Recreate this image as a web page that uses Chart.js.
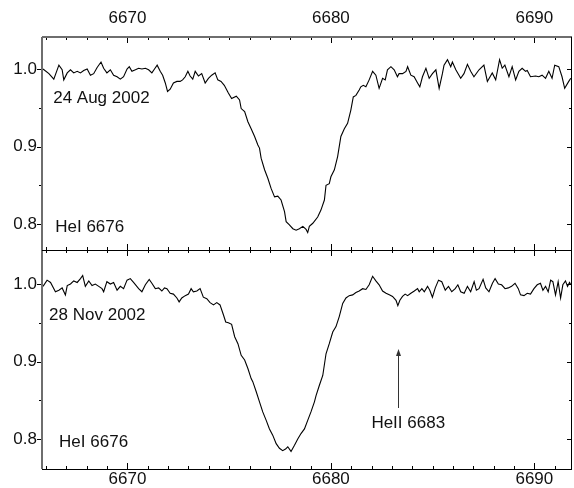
<!DOCTYPE html>
<html>
<head>
<meta charset="utf-8">
<script src="https://cdn.jsdelivr.net/npm/chart.js@4"></script>
<style>
  body { margin: 0; background: #fff; }
  canvas { display: block; }
</style>
</head>
<body>
<canvas id="espectro" width="574" height="488"></canvas>
<script>
// espectro de 24 Aug 2002 (painel de cima)
const augWave = [
  6665.85, 6666.14, 6666.38, 6666.63, 6666.79, 6666.87, 6667.04, 6667.20, 6667.36, 6667.53,
  6667.69, 6667.85, 6668.02, 6668.18, 6668.34, 6668.51, 6668.70, 6668.83, 6668.99, 6669.16,
  6669.32, 6669.49, 6669.65, 6669.81, 6669.98, 6670.09, 6670.22, 6670.39, 6670.55, 6670.71,
  6670.88, 6671.04, 6671.20, 6671.33, 6671.46, 6671.61, 6671.73, 6671.86, 6671.97, 6672.10,
  6672.26, 6672.43, 6672.59, 6672.71, 6672.84, 6672.97, 6673.08, 6673.21, 6673.33, 6673.49,
  6673.65, 6673.82, 6673.98, 6674.14, 6674.31, 6674.44, 6674.60, 6674.76, 6674.96, 6675.12,
  6675.35, 6675.51, 6675.59, 6675.76, 6675.92, 6676.08, 6676.25, 6676.41, 6676.49, 6676.57,
  6676.74, 6676.90, 6677.06, 6677.23, 6677.39, 6677.55, 6677.72, 6677.80, 6677.96, 6678.13,
  6678.29, 6678.45, 6678.62, 6678.78, 6678.86, 6678.94, 6679.11, 6679.35, 6679.51, 6679.68,
  6679.76, 6679.92, 6680.00, 6680.17, 6680.33, 6680.49, 6680.66, 6680.82, 6680.98, 6681.10,
  6681.23, 6681.39, 6681.47, 6681.59, 6681.72, 6681.88, 6682.05, 6682.21, 6682.37, 6682.54,
  6682.67, 6682.78, 6682.95, 6683.11, 6683.27, 6683.35,
  6683.52, 6683.69, 6683.77, 6683.93, 6684.09, 6684.26, 6684.37, 6684.50, 6684.67, 6684.83,
  6684.99, 6685.16, 6685.32, 6685.48, 6685.56, 6685.73, 6685.89, 6685.97, 6686.14, 6686.38,
  6686.54, 6686.71, 6686.87, 6687.03, 6687.28, 6687.52, 6687.69, 6687.93, 6688.10, 6688.29,
  6688.42, 6688.55, 6688.75, 6688.91, 6689.08, 6689.24, 6689.40, 6689.57, 6689.65, 6689.81,
  6690.06, 6690.22, 6690.38, 6690.55, 6690.71, 6690.87, 6691.00, 6691.20, 6691.36, 6691.49,
  6691.69, 6691.79
];
const augFlux = [
  1.000, 0.994, 0.987, 1.005, 0.999, 0.986, 0.995, 0.999, 0.995, 0.997,
  0.995, 0.998, 1.000, 0.992, 0.994, 1.002, 1.009, 1.001, 0.995, 0.999,
  0.992, 0.990, 0.987, 0.990, 1.000, 1.003, 0.997, 0.999, 1.001, 1.000,
  1.001, 0.999, 0.995, 1.000, 1.005, 0.997, 0.992, 0.982, 0.971, 0.974,
  0.982, 0.984, 0.984, 0.986, 0.990, 0.997, 0.991, 0.987, 0.997, 0.991,
  0.994, 0.982, 0.988, 0.992, 0.995, 0.986, 0.984, 0.979, 0.969, 0.962,
  0.965, 0.960, 0.949, 0.945, 0.932, 0.923, 0.913, 0.902, 0.898, 0.885,
  0.870, 0.859, 0.846, 0.835, 0.836, 0.831, 0.816, 0.803, 0.799, 0.794,
  0.792, 0.794, 0.797, 0.793, 0.789, 0.797, 0.801, 0.809, 0.818, 0.831,
  0.850, 0.852, 0.861, 0.870, 0.887, 0.913, 0.923, 0.930, 0.947, 0.964,
  0.966, 0.973, 0.977, 0.979, 0.977, 0.986, 0.997, 0.992, 0.975, 0.988,
  0.986, 0.999, 1.003, 0.999, 0.990, 0.994,
  0.994, 0.997, 1.003, 0.992, 0.990, 0.982, 0.977, 0.990, 1.001, 0.988,
  0.994, 0.999, 0.975, 0.994, 1.005, 1.012, 1.003, 1.009, 0.999, 0.988,
  0.994, 1.006, 0.997, 0.990, 0.999, 1.005, 0.984, 0.995, 0.986, 1.012,
  1.001, 1.005, 0.990, 1.003, 0.986, 0.997, 1.001, 0.997, 0.998, 0.990,
  0.991, 0.990, 0.992, 0.988, 0.997, 0.988, 1.005, 1.003, 0.990, 0.975,
  0.984, 0.988
];

// espectro de 28 Nov 2002 (painel de baixo)
const novWave = [
  6665.85, 6666.05, 6666.22, 6666.46, 6666.63, 6666.79, 6666.95, 6667.04, 6667.20, 6667.36,
  6667.53, 6667.69, 6667.80, 6667.93, 6668.10, 6668.26, 6668.42, 6668.59, 6668.75, 6668.83,
  6668.99, 6669.16, 6669.32, 6669.49, 6669.65, 6669.81, 6669.98, 6670.14, 6670.30, 6670.55,
  6670.71, 6670.88, 6671.07, 6671.20, 6671.37, 6671.53, 6671.69, 6671.82, 6671.94, 6672.10,
  6672.26, 6672.43, 6672.54, 6672.67, 6672.84, 6673.00, 6673.13, 6673.24, 6673.41, 6673.57,
  6673.73, 6673.90, 6674.06, 6674.23, 6674.39, 6674.55, 6674.72, 6674.83, 6674.96, 6675.12,
  6675.27, 6675.43, 6675.59, 6675.76, 6675.92, 6676.08, 6676.16, 6676.33, 6676.49, 6676.65,
  6676.82, 6676.98, 6677.14, 6677.31, 6677.47, 6677.63, 6677.77, 6677.88, 6678.04, 6678.21,
  6678.37, 6678.53, 6678.70, 6678.86, 6679.02, 6679.19, 6679.27, 6679.43, 6679.60, 6679.76,
  6679.92, 6680.09, 6680.25, 6680.41, 6680.58, 6680.74, 6680.90, 6681.07, 6681.23, 6681.39,
  6681.56, 6681.72, 6681.88, 6682.05, 6682.21, 6682.37,
  6682.54, 6682.71, 6682.87, 6683.03, 6683.20, 6683.29, 6683.39, 6683.52, 6683.65, 6683.77,
  6683.93, 6684.10, 6684.26, 6684.34, 6684.47, 6684.59, 6684.75, 6684.86, 6684.99, 6685.13,
  6685.29, 6685.45, 6685.62, 6685.78, 6685.94, 6686.11, 6686.24, 6686.38, 6686.55, 6686.71,
  6686.87, 6687.04, 6687.15, 6687.28, 6687.48, 6687.61, 6687.77, 6687.94, 6688.07, 6688.23,
  6688.39, 6688.56, 6688.72, 6688.88, 6689.05, 6689.21, 6689.32, 6689.49, 6689.65, 6689.81,
  6689.98, 6690.14, 6690.30, 6690.42, 6690.55, 6690.68, 6690.80, 6690.91, 6691.04, 6691.17,
  6691.29, 6691.40, 6691.53, 6691.63, 6691.73, 6691.79
];
const novFlux = [
  0.997, 1.005, 1.002, 0.990, 0.992, 0.995, 0.986, 0.998, 1.000, 1.004,
  1.002, 1.007, 1.011, 0.997, 1.004, 0.998, 1.000, 0.997, 0.994, 0.990,
  1.003, 1.000, 1.002, 0.992, 0.997, 0.994, 1.005, 1.007, 1.002, 0.994,
  0.990, 0.999, 1.006, 1.001, 0.994, 0.995, 0.991, 0.995, 0.994, 0.988,
  0.987, 0.982, 0.977, 0.982, 0.985, 0.987, 0.994, 0.990, 0.991, 0.994,
  0.983, 0.981, 0.976, 0.973, 0.976, 0.973, 0.960, 0.951, 0.950, 0.948,
  0.932, 0.923, 0.908, 0.902, 0.891, 0.878, 0.874, 0.861, 0.848, 0.835,
  0.824, 0.813, 0.805, 0.794, 0.788, 0.785, 0.787, 0.790, 0.784, 0.792,
  0.800, 0.807, 0.813, 0.824, 0.835, 0.848, 0.856, 0.869, 0.882, 0.910,
  0.923, 0.938, 0.945, 0.958, 0.975, 0.982, 0.985, 0.986, 0.989, 0.991,
  0.994, 0.993, 0.999, 1.010, 1.004, 0.999,
  0.991, 0.988, 0.986, 0.984, 0.979, 0.972, 0.979, 0.984, 0.987, 0.985,
  0.988, 0.991, 0.994, 0.990, 0.994, 0.990, 0.997, 0.992, 0.983, 0.995,
  1.005, 1.003, 0.992, 0.997, 0.990, 0.994, 0.999, 0.990, 0.988, 0.997,
  0.990, 1.003, 0.992, 0.994, 1.006, 0.995, 0.990, 1.001, 1.007, 1.000,
  0.999, 0.994, 0.995, 0.997, 1.001, 0.994, 0.986, 0.985, 0.988, 0.987,
  0.994, 0.999, 1.001, 0.992, 0.997, 0.990, 1.005, 1.003, 0.986, 1.003,
  0.982, 0.999, 1.004, 0.997, 1.002, 0.999
];

const xTicks = [6670, 6680, 6690];
const yTicks = [0.8, 0.9, 1.0];

// textos dentro dos paineis
const rotulos = [
  { texto: '24 Aug 2002', x: 6666.35, y: 0.9626, eixo: 'yTop' },
  { texto: 'HeI 6676', x: 6666.45, y: 0.796, eixo: 'yTop' },
  { texto: '28 Nov 2002', x: 6666.15, y: 0.960, eixo: 'yBot' },
  { texto: 'HeI 6676', x: 6666.64, y: 0.796, eixo: 'yBot' },
  { texto: 'HeII 6683', x: 6681.99, y: 0.8206, eixo: 'yBot' }
];
const seta = { x: 6683.31, de: 0.840, ate: 0.916, eixo: 'yBot' };

const fonte = { family: "'Liberation Sans', Arial, sans-serif", size: 17 };

function pares(ws, fs) {
  return ws.map((w, i) => ({ x: w, y: fs[i] }));
}

function soTicks(valores) {
  return function (scale) { scale.ticks = valores.map(v => ({ value: v })); };
}

// moldura com tracinhos para dentro, como no original
const moldura = {
  id: 'moldura',
  afterDraw(chart) {
    const ctx = chart.ctx;
    const x = chart.scales.x;
    const l = x.left, r = x.right;
    ctx.save();

    ['yTop', 'yBot'].forEach(id => {
      const y = chart.scales[id];
      const t = y.top, b = y.bottom;
      ctx.strokeStyle = '#000';
      ctx.lineWidth = 1;
      ctx.beginPath();
      for (let w = 6666; w <= 6691; w++) {
        const px = Math.round(x.getPixelForValue(w)) + 0.5;
        const len = w % 10 === 0 ? 6 : 3;
        ctx.moveTo(px, t); ctx.lineTo(px, t + len);
        ctx.moveTo(px, b); ctx.lineTo(px, b - len);
      }
      [0.8, 0.85, 0.9, 0.95, 1.0].forEach(v => {
        const py = Math.round(y.getPixelForValue(v)) + 0.5;
        const len = Math.abs(v * 10 - Math.round(v * 10)) < 0.01 ? 5 : 3;
        ctx.moveTo(l - len, py); ctx.lineTo(l, py);
        ctx.moveTo(r - len, py); ctx.lineTo(r, py);
      });
      ctx.stroke();
    });

    const yT = chart.scales.yTop, yB = chart.scales.yBot;
    // lados de cima e da esquerda mais grossos e cinzas
    ctx.strokeStyle = '#6e6e6e';
    ctx.lineWidth = 2;
    ctx.beginPath();
    ctx.moveTo(l, yT.top); ctx.lineTo(r, yT.top);
    ctx.moveTo(l, yT.top); ctx.lineTo(l, yB.bottom);
    ctx.stroke();
    ctx.strokeStyle = '#000';
    ctx.lineWidth = 1;
    ctx.beginPath();
    ctx.moveTo(r - 0.5, yT.top); ctx.lineTo(r - 0.5, yB.bottom);
    ctx.moveTo(l, Math.round(yT.bottom) + 0.5); ctx.lineTo(r, Math.round(yT.bottom) + 0.5);
    ctx.moveTo(l, Math.round(yB.bottom) + 0.5); ctx.lineTo(r, Math.round(yB.bottom) + 0.5);
    ctx.stroke();

    ctx.fillStyle = '#111';
    ctx.font = fonte.size + 'px ' + fonte.family;
    ctx.textBaseline = 'middle';
    ctx.textAlign = 'left';
    rotulos.forEach(rt => {
      const ys = chart.scales[rt.eixo];
      ctx.fillText(rt.texto, x.getPixelForValue(rt.x), ys.getPixelForValue(rt.y));
    });

    const ys = chart.scales[seta.eixo];
    const ax = Math.round(x.getPixelForValue(seta.x)) + 0.5;
    const y0 = ys.getPixelForValue(seta.de), y1 = ys.getPixelForValue(seta.ate);
    ctx.strokeStyle = '#333';
    ctx.fillStyle = '#333';
    ctx.beginPath();
    ctx.moveTo(ax, y0); ctx.lineTo(ax, y1 + 4);
    ctx.stroke();
    ctx.beginPath();
    ctx.moveTo(ax, y1); ctx.lineTo(ax - 2.5, y1 + 7); ctx.lineTo(ax + 2.5, y1 + 7);
    ctx.closePath();
    ctx.fill();
    ctx.restore();
  }
};

const eixoX = (pos, altura, pad) => ({
  type: 'linear', position: pos, min: 6665.8, max: 6691.85,
  grid: { display: false, drawTicks: false }, border: { display: false },
  ticks: { font: fonte, color: '#111', padding: pad, maxRotation: 0, callback: v => String(v) },
  afterBuildTicks: soTicks(xTicks),
  afterFit: s => { s.height = altura; }
});

const eixoY = (peso, min, max) => ({
  type: 'linear', position: 'left', stack: 'painel', stackWeight: peso, min: min, max: max,
  grid: { display: false, drawTicks: false }, border: { display: false },
  ticks: { font: fonte, color: '#111', padding: 5, callback: v => v.toFixed(1) },
  afterBuildTicks: soTicks(yTicks),
  afterFit: s => { s.width = 42; }
});

const ctx = document.getElementById('espectro').getContext('2d');
new Chart(ctx, {
  type: 'line',
  data: {
    datasets: [
      { data: pares(augWave, augFlux), xAxisID: 'x', yAxisID: 'yTop', borderColor: '#000', borderWidth: 1.1, pointRadius: 0, tension: 0 },
      { data: pares(novWave, novFlux), xAxisID: 'x', yAxisID: 'yBot', borderColor: '#000', borderWidth: 1.1, pointRadius: 0, tension: 0 }
    ]
  },
  options: {
    responsive: false,
    animation: false,
    layout: { padding: { left: 0, right: 2, top: 0, bottom: 0 } },
    plugins: { legend: { display: false }, tooltip: { enabled: false } },
    scales: {
      x: eixoX('bottom', 19, 0),
      xTop: eixoX('top', 37, 8),
      // no empilhamento o ultimo eixo declarado fica em cima
      yBot: eixoY(219, 0.7613, 1.0439),
      yTop: eixoY(213, 0.7665, 1.0413)
    }
  },
  plugins: [moldura]
});
</script>
</body>
</html>
